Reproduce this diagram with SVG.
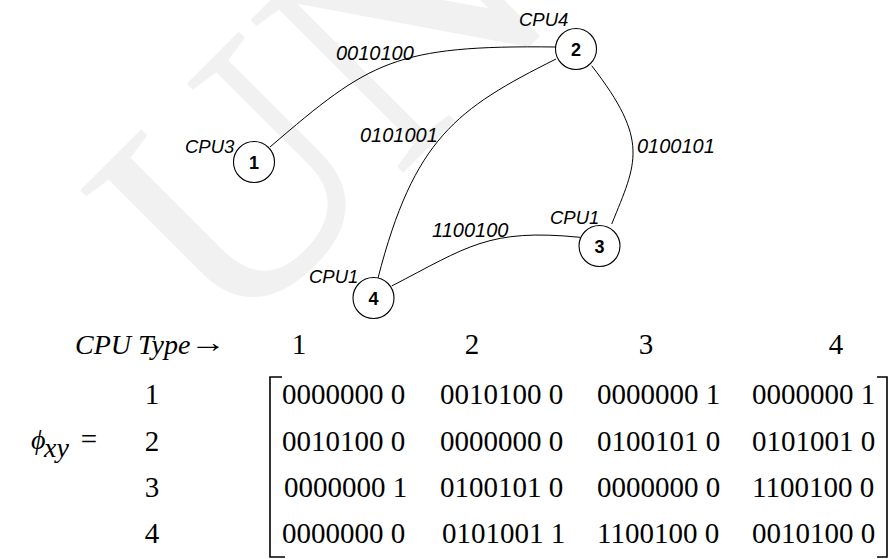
<svg xmlns="http://www.w3.org/2000/svg" width="891" height="559" viewBox="0 0 891 559">
<style>
.wm{font-family:"Liberation Serif",serif;font-size:330px;fill:#f1f1f1}
.node circle{fill:#fff;stroke:#000;stroke-width:1.1}
.num{font-family:"Liberation Sans",Arial,sans-serif;font-weight:bold;font-size:18px;text-anchor:middle;fill:#000}
.cpu{font-family:"Liberation Sans",Arial,sans-serif;font-style:italic;font-size:18.5px;fill:#000}
.lbl{font-family:"Liberation Sans",Arial,sans-serif;font-style:italic;font-size:20px;fill:#000}
.edge{fill:none;stroke:#000;stroke-width:1}
.m{font-family:"Liberation Serif","Times New Roman",serif;font-size:29px;fill:#000}
.mi{font-family:"Liberation Serif","Times New Roman",serif;font-style:italic;font-size:28px;fill:#000}
.br{fill:none;stroke:#000;stroke-width:1.6}
</style>
<rect width="891" height="559" fill="#fff"/>
<text class="wm" transform="translate(228,348) rotate(-45)">UN</text>
<g id="connectors">
<path class="edge" d="M270,147 C370,61 395,45 556,47"/>
<path class="edge" d="M556,59 C456,109 414,139 378,278"/>
<path class="edge" d="M591.7,65.7 C650,141 636.8,162.2 611.7,224"/>
<path class="edge" d="M391.7,286 C467.6,246.8 488.5,228.2 580,237.3"/>
</g>
<g id="edge-labels">
<text class="lbl" x="336" y="60">0010100</text>
<text class="lbl" x="360" y="142">0101001</text>
<text class="lbl" x="637" y="153">0100101</text>
<text class="lbl" x="432" y="237">1100100</text>
</g>
<g id="node1" class="node"><circle cx="254" cy="162" r="20.5"/><text class="num" x="254" y="168.5">1</text><text class="cpu" x="185" y="153">CPU3</text></g>
<g id="node2" class="node"><circle cx="576" cy="49" r="20.5"/><text class="num" x="576" y="55.5">2</text><text class="cpu" x="519" y="26">CPU4</text></g>
<g id="node3" class="node"><circle cx="599.5" cy="246" r="20.5"/><text class="num" x="599.5" y="252.5">3</text><text class="cpu" x="550" y="224">CPU1</text></g>
<g id="node4" class="node"><circle cx="373.5" cy="298" r="20.5"/><text class="num" x="373.5" y="304.5">4</text><text class="cpu" x="309" y="283">CPU1</text></g>
<g id="matrix">
<text class="mi" x="75" y="354">CPU Type</text>
<text class="m" x="190" y="352" textLength="36" lengthAdjust="spacingAndGlyphs">→</text>
<text class="m" x="299" y="354" text-anchor="middle">1</text>
<text class="m" x="472" y="354" text-anchor="middle">2</text>
<text class="m" x="646" y="354" text-anchor="middle">3</text>
<text class="m" x="836" y="354" text-anchor="middle">4</text>
<text class="mi" x="31" y="449" font-size="30">ϕ</text>
<text class="mi" x="44" y="457" font-size="14">xy</text>
<text class="m" x="89" y="449" text-anchor="middle">=</text>
<text class="m" x="152" y="404" text-anchor="middle">1</text>
<text class="m" x="152" y="451" text-anchor="middle">2</text>
<text class="m" x="152" y="497" text-anchor="middle">3</text>
<text class="m" x="152" y="543" text-anchor="middle">4</text>
<polyline class="br" points="282,377 270,377 270,557 285,557"/>
<polyline class="br" points="877,377 887,377 887,557 877,557"/>
<g id="row1"><text class="m" x="282" y="404">0000000 0</text><text class="m" x="440" y="404">0010100 0</text><text class="m" x="597" y="404">0000000 1</text><text class="m" x="752" y="404">0000000 1</text></g>
<g id="row2"><text class="m" x="282" y="451">0010100 0</text><text class="m" x="440" y="451">0000000 0</text><text class="m" x="597" y="451">0100101 0</text><text class="m" x="752" y="451">0101001 0</text></g>
<g id="row3"><text class="m" x="284" y="497">0000000 1</text><text class="m" x="440" y="497">0100101 0</text><text class="m" x="597" y="497">0000000 0</text><text class="m" x="752" y="497">1100100 0</text></g>
<g id="row4"><text class="m" x="282" y="543">0000000 0</text><text class="m" x="442" y="543">0101001 1</text><text class="m" x="597" y="543">1100100 0</text><text class="m" x="752" y="543">0010100 0</text></g>
</g>
</svg>
